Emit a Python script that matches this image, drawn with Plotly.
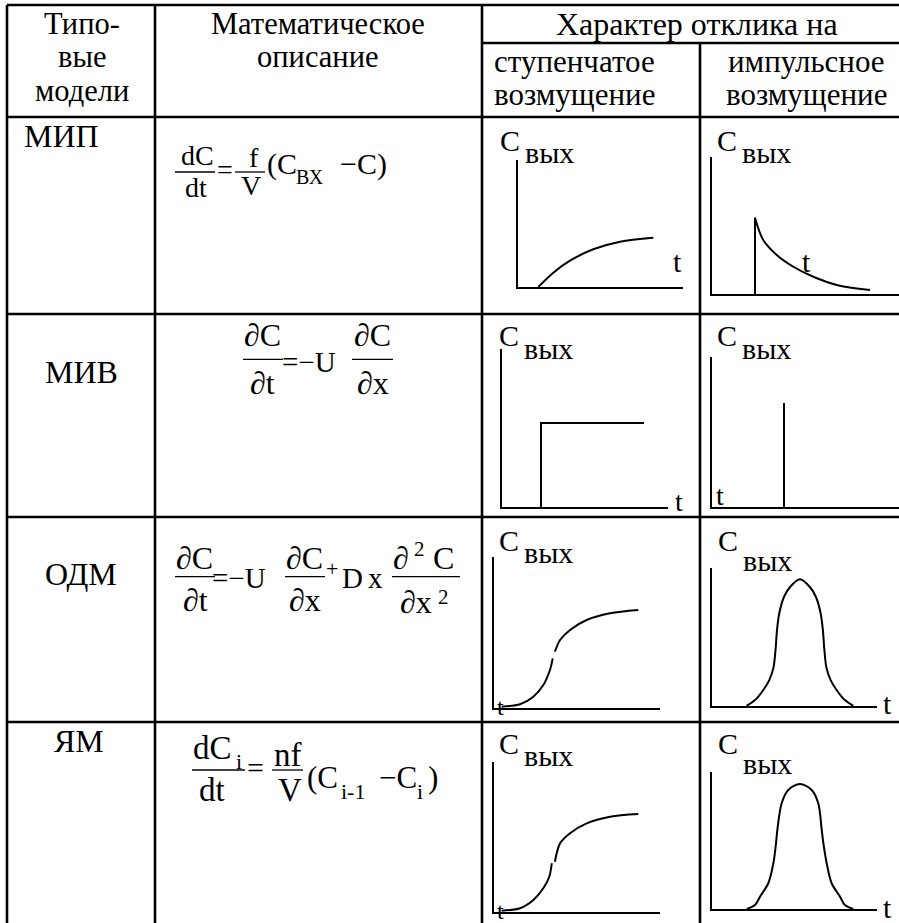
import plotly.graph_objects as go

W, H = 899, 923
FONT = "Liberation Serif, Times New Roman, serif"

# ---------------- table text ----------------
header_model = ["Типо-", "вые", "модели"]
header_math = ["Математическое", "описание"]
header_resp = "Характер отклика на"
header_step = ["ступенчатое", "возмущение"]
header_imp = ["импульсное", "возмущение"]
models = ["МИП", "МИВ", "ОДМ", "ЯМ"]

# ---------------- mini-plot data (t, C in arbitrary units 0..10) ----------------
mip_step_t = [1.23, 2.14, 3.15, 4.56, 6.18, 8.20]
mip_step_c = [0.0, 1.13, 2.07, 2.97, 3.57, 3.88]
mip_imp_spike_t = [2.30, 2.30]
mip_imp_spike_c = [0.0, 5.57]
mip_imp_t = [2.30, 2.74, 3.46, 4.35, 5.42, 6.67, 8.45]
mip_imp_c = [5.57, 3.94, 2.85, 1.99, 1.26, 0.66, 0.29]

miv_step_t = [2.35, 2.35, 8.55]
miv_step_c = [0.0, 5.32, 5.32]
miv_imp_t = [3.85, 3.85]
miv_imp_c = [0.0, 6.93]

odm_step_t_lo = [0.46, 1.57, 2.37, 2.97, 3.37, 3.54]
odm_step_c_lo = [0.09, 0.25, 0.75, 1.52, 2.52, 3.29]
odm_step_t_hi = [3.67, 3.98, 4.58, 5.58, 6.99, 8.69]
odm_step_c_hi = [3.73, 4.50, 5.17, 5.83, 6.27, 6.49]
odm_imp_t = [2.10, 2.61, 3.11, 3.47, 3.72, 3.85, 3.94, 4.08, 4.36, 4.73, 5.33,
             5.93, 6.30, 6.58, 6.72, 6.81, 6.94, 7.19, 7.55, 8.05, 8.56]
odm_imp_c = [0.02, 0.43, 1.16, 1.88, 2.75, 4.06, 5.51, 6.74, 7.90, 8.62, 9.18,
             8.62, 7.90, 6.74, 5.51, 4.06, 2.75, 1.88, 1.16, 0.43, 0.02]

ym_step_t_lo = [0.46, 1.57, 2.37, 2.97, 3.33, 3.48]
ym_step_c_lo = [0.09, 0.25, 0.80, 1.58, 2.35, 3.25]
ym_step_t_hi = [3.67, 3.98, 4.58, 5.58, 6.99, 8.69]
ym_step_c_hi = [3.35, 4.58, 5.25, 5.91, 6.35, 6.53]
ym_imp_t = [2.10, 2.61, 2.91, 3.41, 3.72, 3.88, 3.96, 4.22, 4.62, 5.33,
            6.04, 6.44, 6.65, 6.75, 6.95, 7.25, 7.76, 8.05, 8.56]
ym_imp_c = [0.0, 0.29, 0.90, 1.88, 3.34, 4.80, 5.77, 7.72, 8.69, 9.12,
            8.69, 7.72, 5.77, 4.80, 3.34, 1.88, 0.90, 0.29, 0.0]

# ---------------- layout geometry (pixels) ----------------
TOP_Y = 5
SUB_Y = 43
ROW_Y = [117, 314, 517, 722]
COL_X = [7, 155, 482, 700]
RIGHT_X = 899

# mini-plot boxes: x0, x1, ytop, ybottom
boxes = [
    (518, 683, 160, 287),  # MIP step
    (712, 899, 157, 294),  # MIP impulse
    (502, 668, 349, 507),  # MIV step
    (712, 899, 357, 507),  # MIV impulse
    (494, 660, 557, 708),  # ODM step
    (712, 877, 568, 706),  # ODM impulse
    (494, 660, 762, 912),  # YM step
    (712, 877, 772, 909),  # YM impulse
]

series = [
    [(mip_step_t, mip_step_c, "spline")],
    [(mip_imp_spike_t, mip_imp_spike_c, "linear"), (mip_imp_t, mip_imp_c, "spline")],
    [(miv_step_t, miv_step_c, "linear")],
    [(miv_imp_t, miv_imp_c, "linear")],
    [(odm_step_t_lo, odm_step_c_lo, "spline"), (odm_step_t_hi, odm_step_c_hi, "spline")],
    [(odm_imp_t, odm_imp_c, "spline")],
    [(ym_step_t_lo, ym_step_c_lo, "spline"), (ym_step_t_hi, ym_step_c_hi, "spline")],
    [(ym_imp_t, ym_imp_c, "spline")],
]

fig = go.Figure()

# table grid as a trace on a pixel-mapped main axis
gx, gy = [], []
def seg(x0, y0, x1, y1):
    gx.extend([x0, x1, None]); gy.extend([y0, y1, None])

seg(COL_X[0], TOP_Y, RIGHT_X, TOP_Y)
seg(COL_X[2], SUB_Y, RIGHT_X, SUB_Y)
for y in ROW_Y:
    seg(COL_X[0], y, RIGHT_X, y)
seg(COL_X[0], TOP_Y, COL_X[0], H)
seg(COL_X[1], TOP_Y, COL_X[1], H)
seg(COL_X[2], TOP_Y, COL_X[2], H)
seg(COL_X[3], SUB_Y, COL_X[3], H)

fig.add_trace(go.Scatter(x=gx, y=gy, mode="lines", line=dict(color="black", width=2.6),
                         hoverinfo="skip", showlegend=False, xaxis="x", yaxis="y"))

layout = dict(
    width=W, height=H, margin=dict(l=0, r=0, t=0, b=0),
    paper_bgcolor="white", plot_bgcolor="rgba(0,0,0,0)", showlegend=False,
    xaxis=dict(domain=[0, 1], range=[0, W], visible=False, fixedrange=True),
    yaxis=dict(domain=[0, 1], range=[H, 0], visible=False, fixedrange=True),
)

for i, (box, ser) in enumerate(zip(boxes, series), start=2):
    x0, x1, yt, yb = box
    ax = dict(range=[0, 10], showline=True, linecolor="black", linewidth=2,
              showgrid=False, zeroline=False, showticklabels=False, ticks="",
              fixedrange=True)
    layout[f"xaxis{i}"] = dict(ax, domain=[x0 / W, x1 / W], anchor=f"y{i}")
    layout[f"yaxis{i}"] = dict(ax, domain=[1 - yb / H, 1 - yt / H], anchor=f"x{i}")
    for t, c, shape in ser:
        fig.add_trace(go.Scatter(x=t, y=c, mode="lines",
                                 line=dict(color="black", width=2, shape=shape, smoothing=0.9),
                                 hoverinfo="skip", showlegend=False,
                                 xaxis=f"x{i}", yaxis=f"y{i}"))

fig.update_layout(**layout)

annotations = []
def txt(s, x, y, size=32, xanchor="center"):
    annotations.append(dict(text=s, x=x, y=y, xref="x", yref="y", showarrow=False,
                            xanchor=xanchor, yanchor="middle",
                            font=dict(family=FONT, size=size, color="black")))

shapes = []
def bar(x0, x1, y):
    shapes.append(dict(type="line", xref="x", yref="y", x0=x0, x1=x1, y0=y, y1=y,
                       line=dict(color="black", width=1.3)))

# header
for s, y in zip(header_model, [24, 57, 90.5]):
    txt(s, 82, y, 30.5)
for s, y in zip(header_math, [24, 57]):
    txt(s, 318, y, 30.5)
txt(header_resp, 697, 24, 32)
for s, y in zip(header_step, [61.5, 94.5]):
    txt(s, 492, y, 31, "left")
for s, y in zip(header_imp, [61.5, 94.5]):
    txt(s, 806, y, 31)

# model names
txt(models[0], 22, 136, xanchor="left")
txt(models[1], 81, 372)
txt(models[2], 81, 574)
txt(models[3], 79, 741)

# formula row 1: dC/dt = f/V (C_вх - C)
txt("dC", 197, 155.5, 28); bar(175, 215, 172); txt("dt", 196, 187, 28)
txt("=", 224.5, 169.5, 28)
txt("f", 254, 157, 28); bar(235, 265, 172); txt("V", 251, 185.6, 28)
txt("(C", 265, 163.8, 30, "left"); txt("ВХ", 294, 176.6, 20, "left")
txt("−C)", 338, 163.8, 30, "left")

# formula row 2
txt("∂C", 262.5, 335, 32); bar(243, 283, 359.3); txt("∂t", 262, 383, 32)
txt("=−U", 309, 362, 29)
txt("∂C", 372.5, 335, 32); bar(352, 393, 359.3); txt("∂x", 373, 383, 32)

# formula row 3
txt("∂C", 194, 558, 32); bar(175, 215, 576.7); txt("∂t", 195, 600, 32)
txt("=−U", 239, 578, 29)
txt("∂C", 304, 558, 32); bar(285, 325, 576.7); txt("∂x", 304.5, 600, 32)
txt("+", 331.5, 568, 22)
txt("D", 352, 578, 29); txt("x", 375, 578, 29)
txt("∂", 401, 558, 32); txt("2", 419, 549, 21); txt("C", 443.5, 558, 32)
bar(392, 460, 576.7)
txt("∂x", 416, 602, 32); txt("2", 443, 597, 21)

# formula row 4
txt("dC", 212, 748, 33); txt("i", 238.5, 761, 22)
bar(192, 245, 770); txt("dt", 212, 790, 33)
txt("=", 255, 767, 30)
txt("nf", 288, 755, 33); bar(272, 303, 770); txt("V", 289.5, 790, 33)
txt("(C", 305, 777, 31, "left"); txt("i-1", 339, 791, 22, "left")
txt("−C", 377, 777, 31, "left"); txt("i", 415, 791, 22, "left")
txt(")", 426, 777, 31, "left")

# mini-plot labels: C_вых and t
c_labels = [(509.5, 140, 152), (727, 140, 152), (508.5, 335, 348), (727, 335, 348),
            (508.5, 540, 552), (727.5, 540, 560), (508.5, 743, 755), (727.5, 743, 763)]
for cx, cy, sy in c_labels:
    txt("C", cx, cy, 30)
    txt("вых", cx + 13, sy, 30, "left")

t_labels = [(677, 261.6, 30), (806.7, 261.6, 30), (679, 501.6, 28), (720, 495, 28),
            (500, 707, 24), (887, 703, 30), (500, 911, 24), (887, 907, 30)]
for tx, ty, ts in t_labels:
    txt("t", tx, ty, ts)

fig.update_layout(annotations=annotations, shapes=shapes)
fig.write_html("out.html", config={"displayModeBar": False},
               post_script="document.body.style.margin='0';")
